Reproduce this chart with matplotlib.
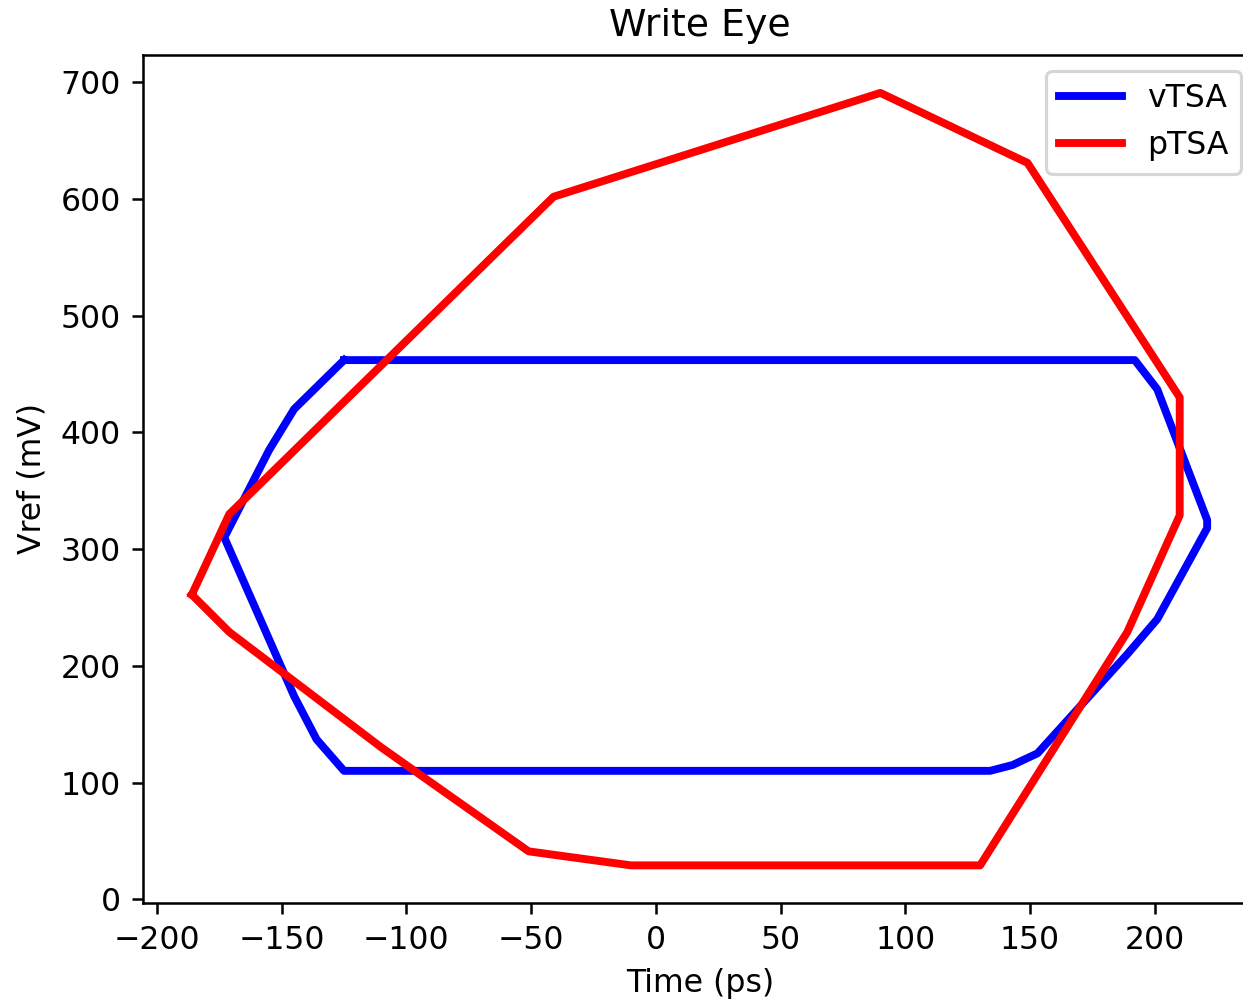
import matplotlib
matplotlib.use("Agg")
import matplotlib.pyplot as plt

# vTSA eye contour (Time ps, Vref mV)
vtsa_time = [-125, 192, 201, 221, 221, 201, 189, 153, 143, 134, -125, -136, -145, -173, -155, -145, -125]
vtsa_vref = [462, 462, 437, 325, 318, 240, 210, 125, 115, 110, 110, 137, 174, 310, 385, 420, 462]

# pTSA eye contour
ptsa_time = [-186, -171, -41, 90, 149, 210, 210, 189, 130, -10, -51, -110, -171, -186]
ptsa_vref = [261, 330, 602, 691, 631, 430, 329, 229, 29, 29, 41, 130, 229, 261]

DPI = 227
fig = plt.figure(figsize=(1243 / DPI, 1003 / DPI), dpi=DPI)
ax = fig.add_axes([0.1148, 0.1000, 0.8965, 0.8452])

ax.plot(vtsa_time, vtsa_vref, color="blue", lw=2.5, label="vTSA")
ax.plot(ptsa_time, ptsa_vref, color="red", lw=2.5, label="pTSA")

ax.set_xlim(-205.7, 241)
ax.set_ylim(-3, 723.5)
ax.set_xticks([-200, -150, -100, -50, 0, 50, 100, 150, 200])
ax.set_yticks([0, 100, 200, 300, 400, 500, 600, 700])

ax.set_title("Write Eye")
ax.set_xlabel("Time (ps)")
ax.set_ylabel("Vref (mV)")
ax.legend(loc="upper right")

fig.savefig("out.png", dpi=DPI)
